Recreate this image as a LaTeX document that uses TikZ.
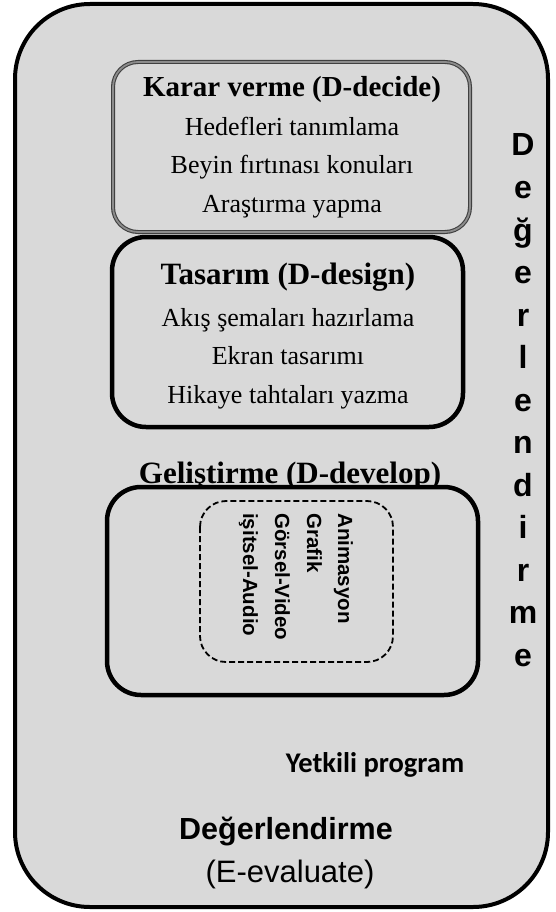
\documentclass[tikz,border=0pt]{standalone}
\usepackage{fontspec}
\setmainfont{Liberation Serif}
\newfontfamily\arialf{Liberation Sans}
\newfontfamily\calibf{Carlito}
\definecolor{bggray}{RGB}{217,217,217}
\begin{document}
\begin{tikzpicture}[x=1pt,y=1pt,
  outerbox/.style={draw=black, line width=4pt, fill=bggray, rounded corners=75pt},
  graybox/.style={draw=black!75, line width=1.1pt, double=black!45, double distance=1.8pt, fill=bggray, rounded corners=25pt},
  blackbox/.style={draw=black, line width=4.5pt, fill=bggray, rounded corners=34pt},
  dashbox/.style={draw=black, line width=1.8pt, dash pattern=on 6pt off 3pt, rounded corners=26pt},
  serifbold/.style={font=\fontsize{29}{35}\selectfont\bfseries, anchor=base, inner sep=0pt},
  seriflarge/.style={font=\fontsize{31}{37}\selectfont\bfseries, anchor=base, inner sep=0pt},
  serifreg/.style={font=\fontsize{26}{31}\selectfont, anchor=base, inner sep=0pt},
  rottext/.style={font=\arialf\fontsize{20.5}{24}\selectfont\bfseries, rotate=-90, anchor=base west, inner sep=0pt},
  vletter/.style={font=\arialf\fontsize{32}{36}\selectfont\bfseries, anchor=base, inner sep=0pt},
  evalbold/.style={font=\arialf\fontsize{30.5}{36}\selectfont\bfseries, anchor=base, inner sep=0pt},
  evalreg/.style={font=\arialf\fontsize{31}{36}\selectfont, anchor=base, inner sep=0pt},
  yetkili/.style={font=\calibf\fontsize{28.5}{34}\selectfont\bfseries, anchor=base, inner sep=0pt}
]
\useasboundingbox (0,0) rectangle (556,-912);
% outer box
\draw[outerbox] (15,-4) rectangle (548,-907);
% box 1
\draw[graybox] (113,-62) rectangle (470,-232);
\node[serifbold] (k1) at (292,-97) {Karar verme (D-decide)};
\node[serifreg] (k2) at (292,-136) {Hedefleri tanımlama};
\node[serifreg] (k3) at (292,-174) {Beyin fırtınası konuları};
\node[serifreg] (k4) at (292,-212) {Araştırma yapma};
% box 2
\draw[blackbox] (112,-237) rectangle (463,-427);
\node[seriflarge] (t1) at (288,-284) {Tasarım (D-design)};
\node[serifreg] (t2) at (288,-326) {Akış şemaları hazırlama};
\node[serifreg] (t3) at (288,-364) {Ekran tasarımı};
\node[serifreg] (t4) at (288,-403) {Hikaye tahtaları yazma};
% title of box 3 (partly hidden by the box)
\node[seriflarge] (g1) at (290,-483) {Geliştirme (D-develop)};
% box 3
\draw[blackbox] (107,-487) rectangle (478,-695);
\draw[dashbox] (200,-501) rectangle (393,-662);
\node[rottext] (anim) at (338,-513) {Animasyon};
\node[rottext] (graf) at (307,-513) {Grafik};
\node[rottext] (gors) at (275,-513) {Görsel-Video};
\node[rottext] (isit) at (243,-513) {işitsel-Audio};
% vertical word
\foreach \l [count=\i] in {D,e,ğ,e,r,l,e,n,d,i,r,m,e}
  \node[vletter] (v\i) at (523,{-156-42.5*(\i-1)}) {\l};
% bottom texts
\node[yetkili] (yp) at (375,-772) {Yetkili program};
\node[evalbold] (ev1) at (286,-839) {Değerlendirme};
\node[evalreg] (ev2) at (290,-882) {(E-evaluate)};
\end{tikzpicture}
\end{document}
